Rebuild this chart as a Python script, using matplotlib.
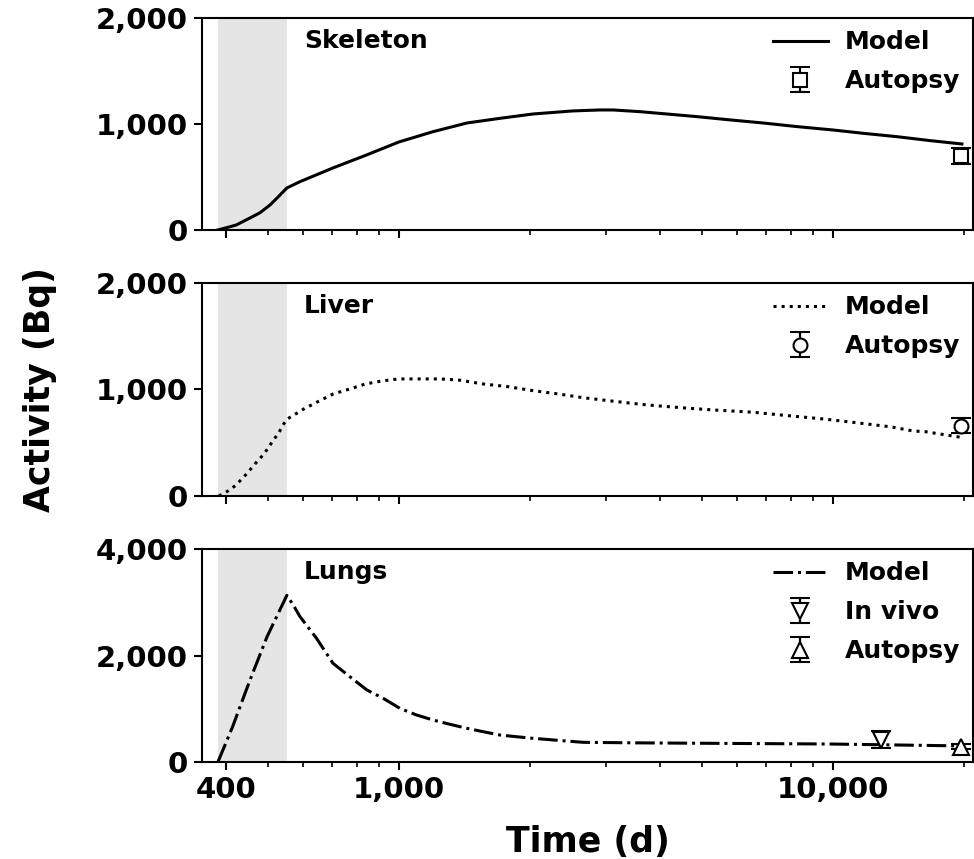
import numpy as np
import matplotlib
matplotlib.use('Agg')
import matplotlib.pyplot as plt
from matplotlib.ticker import FixedLocator, FuncFormatter, NullFormatter

# exposure period (shaded)
shade_start, shade_end = 383, 552

# model curves
skel_t = [383, 400, 422, 454, 479, 505, 526, 552, 592, 705, 843, 1000, 1198,
          1434, 1709, 2036, 2518, 2904, 3111, 3590, 4140, 4860, 5796, 6903,
          8260, 10000, 11720, 14030, 16710, 19800]
skel_a = [0, 20, 47, 113, 163, 236, 308, 396, 456, 585, 708, 830, 927,
          1009, 1053, 1094, 1123, 1132, 1132, 1116, 1094, 1069, 1038, 1009,
          975, 943, 912, 880, 843, 811]

liver_t = [385, 404, 419, 435, 447, 473, 489, 513, 529, 541, 552, 602, 651,
           706, 771, 838, 914, 997, 1043, 1198, 1243, 1370, 1561, 1786, 2036,
           2328, 2654, 3174, 3723, 4560, 5290, 6553, 7552, 9500, 10770, 13650,
           15290, 16290, 19680]
liver_a = [0, 47, 94, 160, 213, 331, 394, 519, 594, 667, 720, 814, 886,
           958, 1005, 1052, 1080, 1099, 1099, 1099, 1099, 1089, 1052, 1026, 989,
           958, 923, 886, 855, 826, 808, 786, 761, 723, 698, 648,
           610, 604, 551]

lung_t = [383, 414, 454, 497, 552, 571, 592, 646, 705, 771, 844, 920, 1005,
          1098, 1198, 1311, 1434, 1564, 1709, 1866, 2036, 2435, 2654, 3500,
          5290, 9850, 14000, 18330, 19800]
lung_a = [0, 663, 1540, 2353, 3130, 2948, 2729, 2323, 1853, 1602, 1352, 1196,
          1008, 883, 789, 708, 633, 569, 507, 475, 445, 394, 370, 360,
          351, 338, 320, 306, 300]

# measurements: (time, activity, error)
skel_autopsy = (19700, 700, 75)
liver_autopsy = (19700, 660, 68)
lung_invivo = (12900, 420, 165)
lung_autopsy = (19700, 290, 50)

panels = ['Skeleton', 'Liver', 'Lungs']
ymax = [2000, 2000, 4000]
yticks = [[0, 1000, 2000], [0, 1000, 2000], [0, 2000, 4000]]
xticks = [400, 1000, 10000]
minor = [500, 600, 700, 800, 900, 2000, 3000, 4000, 5000, 6000, 7000, 8000, 9000, 20000]

plt.rcParams['font.family'] = 'DejaVu Sans'
plt.rcParams['font.weight'] = 'bold'

fig = plt.figure(figsize=(9.74, 8.59), dpi=100)
left, width = 0.2074, 0.7916
bottoms = [0.7323, 0.4226, 0.1129]
heights = [0.2468, 0.248, 0.248]
axes = [fig.add_axes([left, b, width, h]) for b, h in zip(bottoms, heights)]

comma = FuncFormatter(lambda v, p: f'{v:,.0f}')

lw = 2.2
eb = dict(color='black', mfc='white', mec='black', mew=1.5,
          capsize=7.5, capthick=1.6, elinewidth=1.6, ls='none')

ax = axes[0]
ax.plot(skel_t, skel_a, color='black', lw=lw, ls='-', label='Model')
ax.errorbar(skel_autopsy[0], skel_autopsy[1], yerr=skel_autopsy[2], marker='s',
            ms=10, label='Autopsy', **eb)

ax = axes[1]
ax.plot(liver_t, liver_a, color='black', lw=lw, ls=':', label='Model')
ax.errorbar(liver_autopsy[0], liver_autopsy[1], yerr=liver_autopsy[2], marker='o',
            ms=10, label='Autopsy', **eb)

ax = axes[2]
ax.plot(lung_t, lung_a, color='black', lw=lw, ls='-.', label='Model')
ax.errorbar(lung_invivo[0], lung_invivo[1], yerr=lung_invivo[2], marker='v',
            ms=12, label='In vivo', **eb)
ax.errorbar(lung_autopsy[0], lung_autopsy[1], yerr=lung_autopsy[2], marker='^',
            ms=12, label='Autopsy', **eb)

for i, ax in enumerate(axes):
    ax.axvspan(shade_start, shade_end, color='#e5e5e5', lw=0, zorder=0)
    ax.set_xscale('log')
    ax.set_xlim(352, 21000)
    ax.set_ylim(0, ymax[i])
    ax.xaxis.set_major_locator(FixedLocator(xticks))
    ax.xaxis.set_minor_locator(FixedLocator(minor))
    ax.xaxis.set_minor_formatter(NullFormatter())
    if i < 2:
        ax.xaxis.set_major_formatter(NullFormatter())
    else:
        ax.xaxis.set_major_formatter(comma)
    ax.set_yticks(yticks[i])
    ax.yaxis.set_major_formatter(comma)
    ax.tick_params(axis='both', which='major', labelsize=21, length=6, width=1.5, pad=4)
    ax.tick_params(axis='x', which='minor', length=3.5, width=1.2)
    for s in ax.spines.values():
        s.set_linewidth(1.5)
    ax.text(0.132, 0.89, panels[i], transform=ax.transAxes, fontsize=18,
            fontweight='bold', va='center', ha='left')
    ax.legend(loc='upper right', frameon=False, fontsize=18, borderaxespad=0.1,
              handlelength=2.2, handletextpad=0.7, labelspacing=0.6)

fig.text(0.041, 0.546, 'Activity (Bq)', rotation=90, ha='center', va='center',
         fontsize=25, fontweight='bold')
axes[2].set_xlabel('Time (d)', fontsize=25, fontweight='bold', labelpad=15)

fig.savefig('out.png', dpi=100)
